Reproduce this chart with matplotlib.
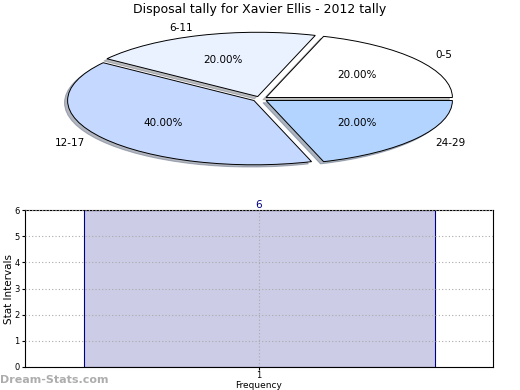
import matplotlib
matplotlib.use("Agg")
import matplotlib.pyplot as plt

pie_labels = ["0-5", "6-11", "12-17", "24-29"]
pie_values = [20, 20, 40, 20]
pie_colors = ["#ffffff", "#eaf2ff", "#c5d8ff", "#b3d4ff"]

bar_x = [1]
bar_values = [6]
yticks = [0, 1, 2, 3, 4, 5, 6]

fig = plt.figure(figsize=(5.2, 3.9), dpi=100)

ax1 = fig.add_axes([55/520, 1-171/390, 410/520, 144/390])
wedges, texts, autotexts = ax1.pie(
    pie_values, labels=pie_labels, colors=pie_colors, autopct="%1.2f%%",
    startangle=0, counterclock=True, explode=[0.04]*4,
    shadow=dict(ox=-0.012, oy=-0.025, shade=0.5),
    labeldistance=1.12, pctdistance=0.6,
    wedgeprops=dict(edgecolor="black", linewidth=0.7),
    textprops=dict(fontsize=7.5))
ax1.set_aspect("auto")
ax1.set_xlim(-1.1, 1.1)
ax1.set_ylim(-1.12, 1.12)
fig.text(0.5, 1-10/390, "Disposal tally for Xavier Ellis - 2012 tally",
         ha="center", va="center", fontsize=9)

ax2 = fig.add_axes([25/520, 1-367/390, 468/520, 157/390])
bars = ax2.bar(bar_x, bar_values, width=0.75, color="#ccccE6",
               edgecolor="#000080", linewidth=0.8, zorder=2)
ax2.set_xlim(0.5, 1.5)
ax2.set_ylim(0, 6)
ax2.set_yticks(yticks)
ax2.set_xticks(bar_x)
ax2.tick_params(labelsize=6, length=2, pad=2)
ax2.tick_params(axis="x", pad=1)
ax2.grid(True, linestyle=(0, (1, 2)), color="#aaaaaa", linewidth=0.8, zorder=3)
ax2.set_axisbelow(False)
for x, v in zip(bar_x, bar_values):
    ax2.text(x, v, str(v), ha="center", va="bottom", color="#000080", fontsize=7.5)
ax2.set_ylabel("Stat Intervals", fontsize=7.5, labelpad=0)
ax2.set_xlabel("Frequency", fontsize=6.5, labelpad=0.5)
fig.text(0, 1-380/390, "Dream-Stats.com", color="#999999", fontsize=8,
         fontweight="bold", ha="left", va="center", alpha=0.8)

fig.savefig("out.png", dpi=100)
